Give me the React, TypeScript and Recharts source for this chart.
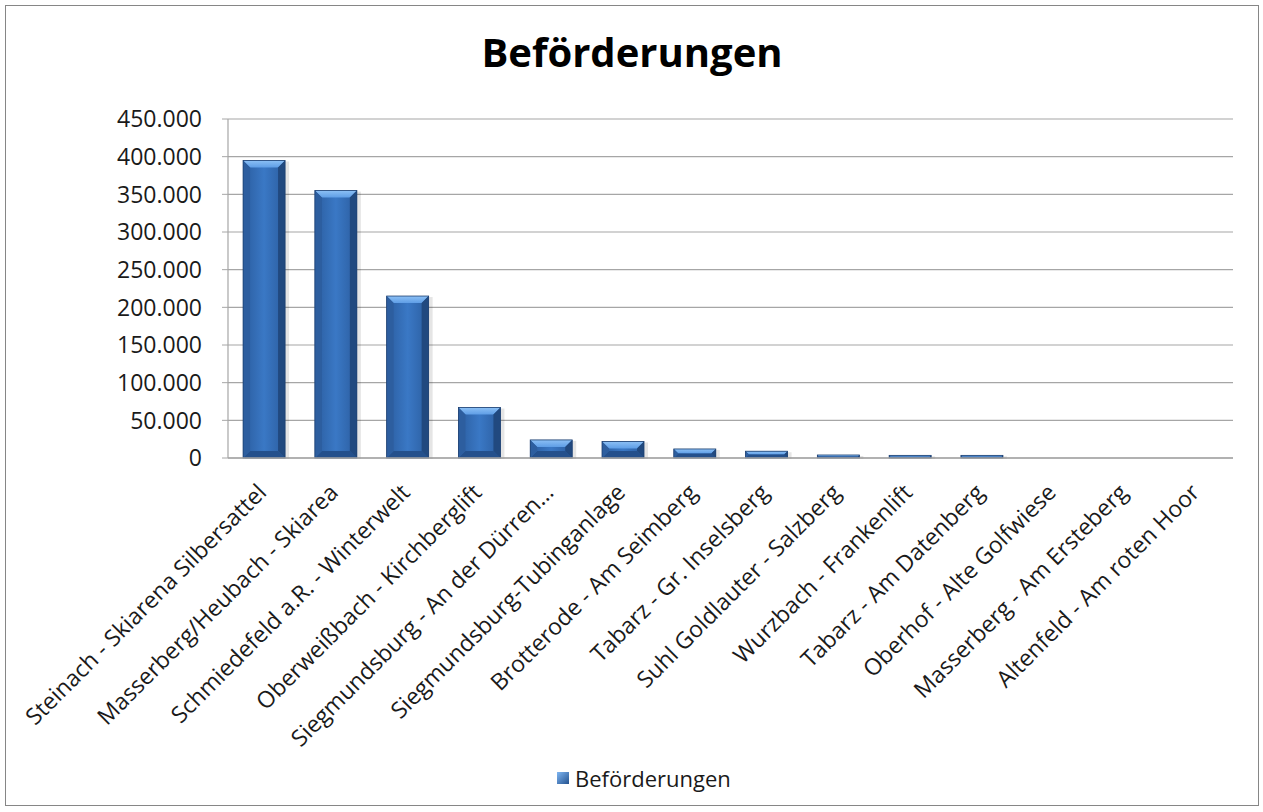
import React from "react";
import { BarChart, Bar, XAxis, YAxis, CartesianGrid } from "recharts";

const categories = [
  "Steinach - Skiarena Silbersattel",
  "Masserberg/Heubach - Skiarea",
  "Schmiedefeld a.R. - Winterwelt",
  "Oberweißbach - Kirchberglift",
  "Siegmundsburg - An der Dürren…",
  "Siegmundsburg-Tubinganlage",
  "Brotterode - Am Seimberg",
  "Tabarz - Gr. Inselsberg",
  "Suhl Goldlauter - Salzberg",
  "Wurzbach - Frankenlift",
  "Tabarz - Am Datenberg",
  "Oberhof - Alte Golfwiese",
  "Masserberg - Am Ersteberg",
  "Altenfeld - Am roten Hoor",
];
const values = [395000, 355000, 215000, 67000, 24000, 22000, 12000, 9000, 4000, 3500, 3500, 0, 0, 0];
const yTicks = [0, 50000, 100000, 150000, 200000, 250000, 300000, 350000, 400000, 450000];
const seriesName = "Beförderungen";
const title = "Beförderungen";

const data = categories.map((name, i) => ({ name, value: values[i] }));

const FONT = "'Open Sans', 'Liberation Sans', sans-serif";
const GRID = "#a6a6a6";
const TEXT = "#1a1a1a";

const fmt = (v: number) => String(v).replace(/\B(?=(\d{3})+(?!\d))/g, ".");

function YTick({ x, y, payload }: any) {
  return (
    <text x={x} y={y} dy="0.36em" textAnchor="end" fontSize={23} fontFamily={FONT} fill={TEXT}>
      {fmt(payload.value)}
    </text>
  );
}

function XTick({ x, y, payload }: any) {
  return (
    <text
      x={0}
      y={0}
      dy="0.36em"
      textAnchor="end"
      fontSize={23}
      fontFamily={FONT}
      fill={TEXT}
      transform={`translate(${x - 2},${y}) rotate(-45)`}
    >
      {payload.value}
    </text>
  );
}

function BevelBar({ x, y, width, height }: any) {
  if (!height || height <= 0) return null;
  const b = Math.min(7, height / 2, width / 2);
  const r = x + width;
  const btm = y + height;
  return (
    <g>
      <rect x={x + 2} y={y + 1} width={width + 2} height={height} fill="#000" opacity={0.1} />
      <rect x={x} y={y} width={width} height={height} fill="url(#barBody)" />
      <polygon points={`${x},${y} ${r},${y} ${r - b},${y + b} ${x + b},${y + b}`} fill="url(#barTop)" />
      <polygon points={`${x},${btm} ${r},${btm} ${r - b},${btm - b} ${x + b},${btm - b}`} fill="#24508c" />
      <polygon points={`${x},${y} ${x + b},${y + b} ${x + b},${btm - b} ${x},${btm}`} fill="#2d5e9f" />
      <polygon points={`${r},${y} ${r - b},${y + b} ${r - b},${btm - b} ${r},${btm}`} fill="#21497f" />
      <rect x={x} y={y} width={width} height={height} fill="none" stroke="#1c3f70" strokeWidth={0.8} />
    </g>
  );
}

export default function App() {
  return (
    <div
      style={{
        position: "absolute",
        left: 5,
        top: 5,
        width: 1254,
        height: 801,
        boxSizing: "border-box",
        border: "1px solid #868686",
        background: "#fff",
        fontFamily: FONT,
      }}
    >
      <div
        style={{
          position: "absolute",
          left: 0,
          width: 1252,
          top: 26,
          textAlign: "center",
          fontSize: 40,
          fontWeight: 700,
          lineHeight: 1,
          color: "#000",
        }}
      >
        {title}
      </div>
      <BarChart
        width={1252}
        height={799}
        data={data}
        margin={{ top: 113, right: 25, left: 0, bottom: 0 }}
        barCategoryGap="21%"
      >
        <defs>
          <linearGradient id="barBody" x1="0" y1="0" x2="1" y2="0">
            <stop offset="0%" stopColor="#2b5d9f" />
            <stop offset="50%" stopColor="#3a78c5" />
            <stop offset="100%" stopColor="#2b5d9f" />
          </linearGradient>
          <linearGradient id="barTop" x1="0" y1="0" x2="0" y2="1">
            <stop offset="0%" stopColor="#8cc0f5" />
            <stop offset="100%" stopColor="#5f9ee6" />
          </linearGradient>
        </defs>
        <CartesianGrid vertical={false} stroke={GRID} strokeWidth={1.2} />
        <XAxis
          dataKey="name"
          interval={0}
          height={347}
          tick={<XTick />}
          tickLine={false}
          tickSize={0}
          tickMargin={30}
          axisLine={{ stroke: GRID, strokeWidth: 1.5 }}
        />
        <YAxis
          width={222}
          domain={[0, 450000]}
          ticks={yTicks}
          interval={0}
          tick={<YTick />}
          tickSize={6}
          tickMargin={20}
          tickLine={{ stroke: GRID }}
          axisLine={{ stroke: GRID, strokeWidth: 1.2 }}
        />
        <Bar dataKey="value" name={seriesName} shape={<BevelBar />} isAnimationActive={false} />
      </BarChart>
      <div
        style={{
          position: "absolute",
          top: 761,
          left: 551,
          display: "flex",
          alignItems: "center",
          fontSize: 22,
          lineHeight: 1,
          color: TEXT,
        }}
      >
        <span
          style={{
            display: "inline-block",
            width: 12,
            height: 12,
            marginRight: 6,
            background: "linear-gradient(135deg, #7fb6f2, #23528f)",
          }}
        />
        {seriesName}
      </div>
    </div>
  );
}
